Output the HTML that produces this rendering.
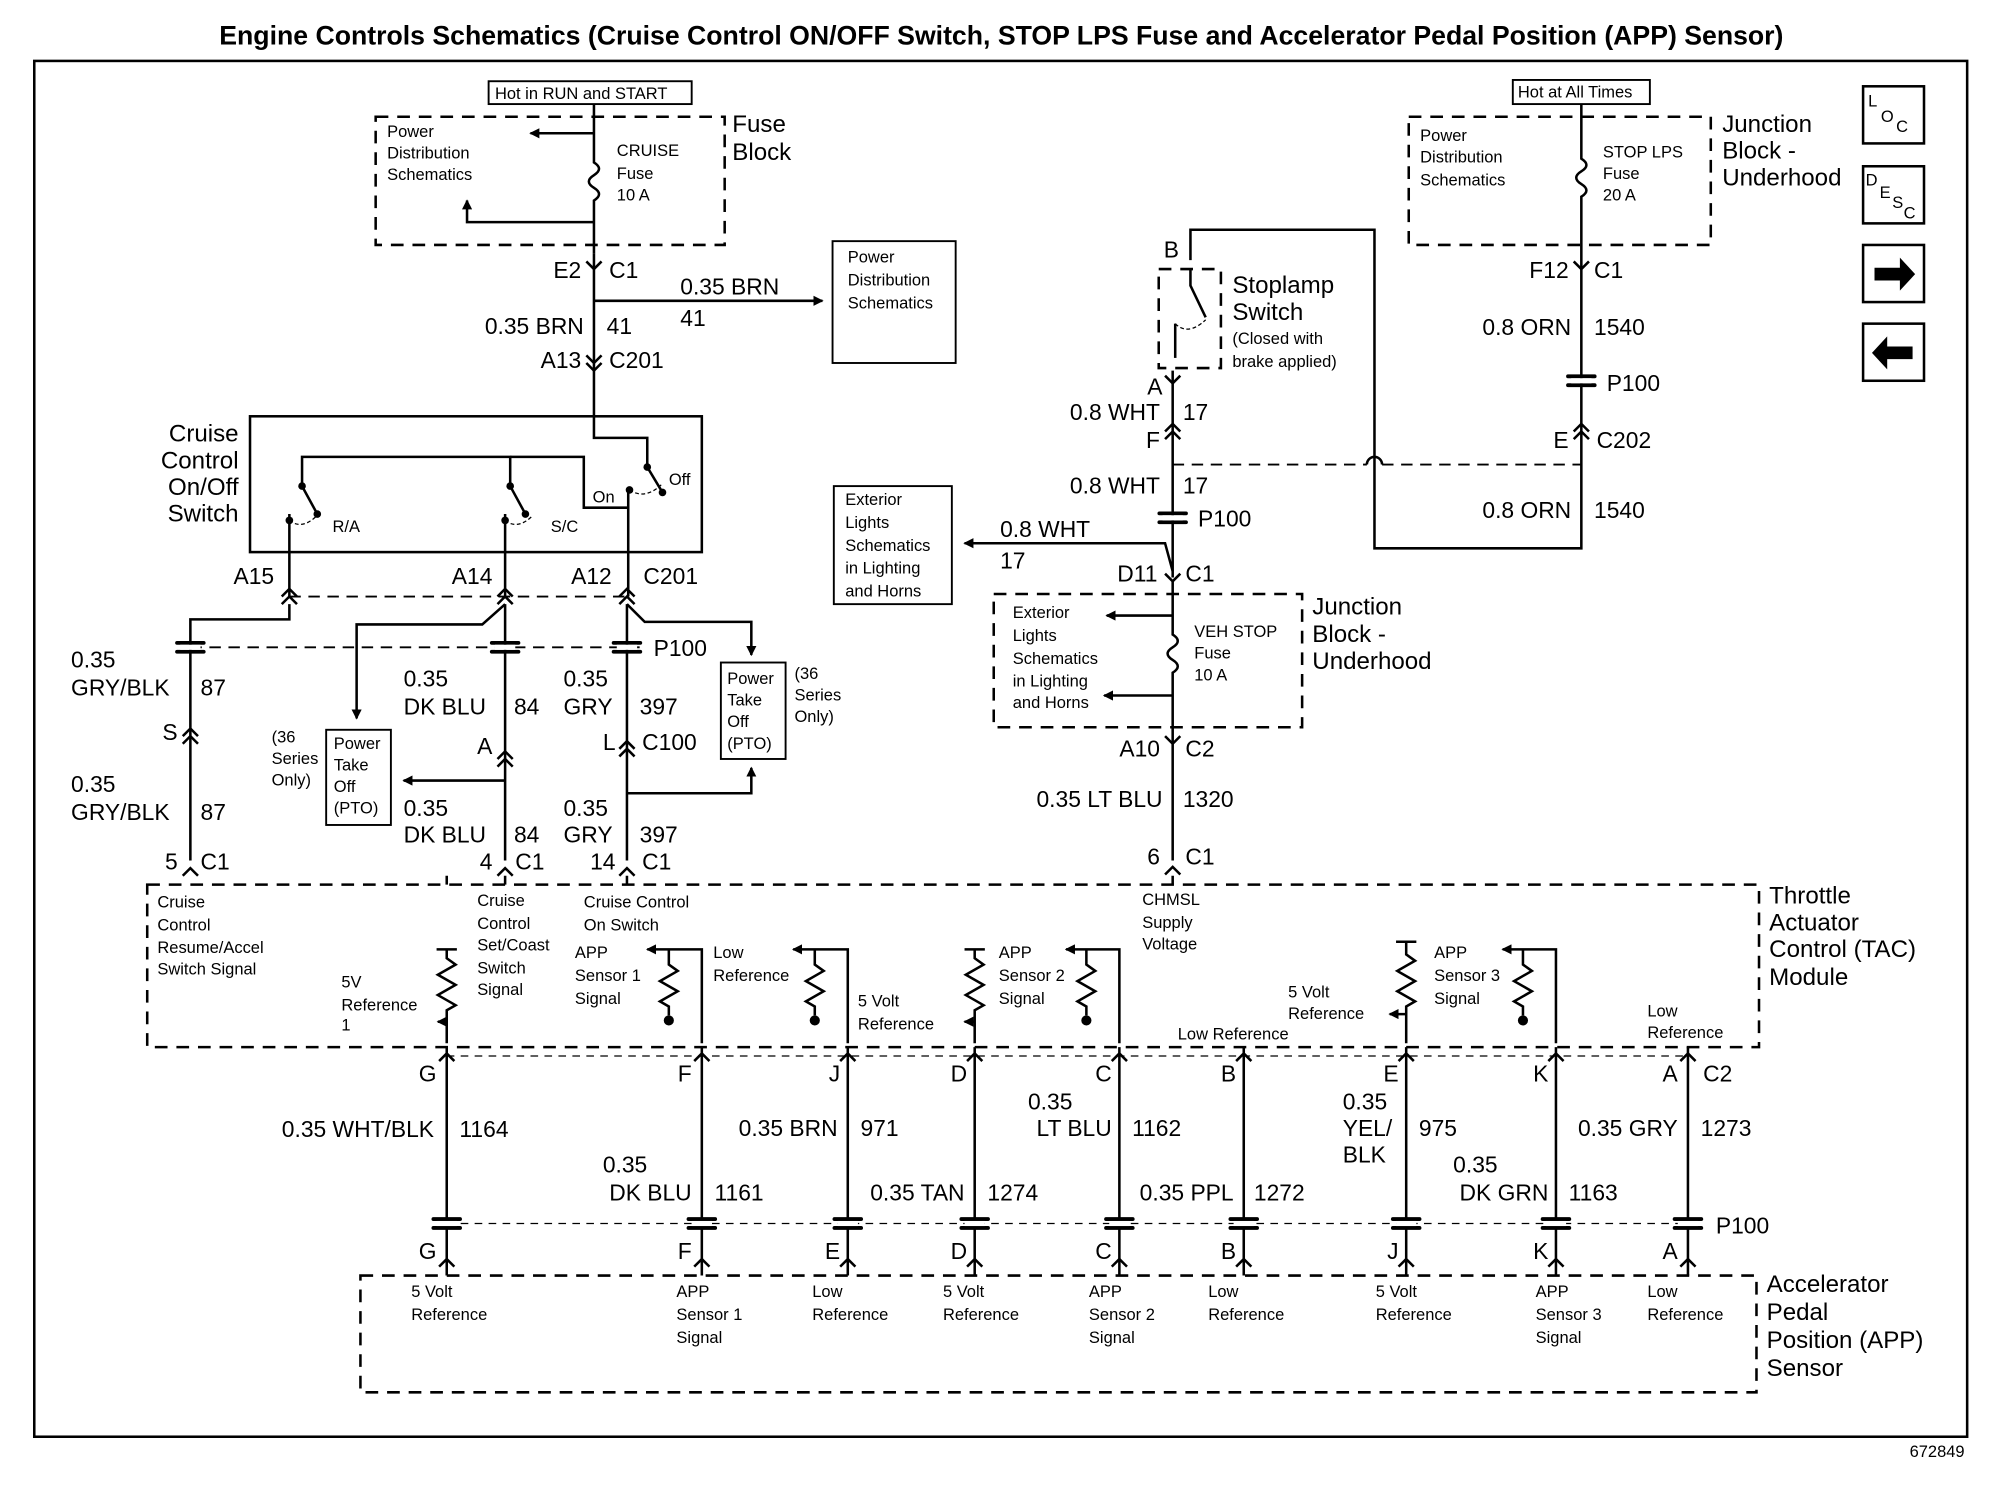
<!DOCTYPE html>
<html><head><meta charset="utf-8"><style>
html,body{margin:0;padding:0;background:#fff}
svg{display:block}
text{font-family:"Liberation Sans",Arial,sans-serif;fill:#000}
.b{font-size:18px}
.s{font-size:13px}
.h{font-size:19px}
</style></head><body>
<svg width="1990" height="1504" viewBox="0 0 1568 1185" preserveAspectRatio="none" xmlns="http://www.w3.org/2000/svg">
<defs>
<marker id="ar" markerWidth="8" markerHeight="8" refX="7" refY="4" orient="auto" markerUnits="userSpaceOnUse"><path d="M0,0 L8,4 L0,8 z" fill="#000"/></marker>
<g id="p"><rect x="-12" y="-5" width="24" height="3" rx="1.5" fill="#000"/><rect x="-12" y="2" width="24" height="3" rx="1.5" fill="#000"/><rect x="-8" y="-2" width="16" height="4" fill="#fff"/></g>
</defs>
<rect width="1568" height="1185" fill="#fff"/>
<text x="789" y="35" text-anchor="middle" font-size="21" font-weight="bold">Engine Controls Schematics (Cruise Control ON/OFF Switch, STOP LPS Fuse and Accelerator Pedal Position (APP) Sensor)</text>
<rect x="27" y="48" width="1523" height="1084" fill="none" stroke="#000" stroke-width="2"/>
<text x="1548" y="1148" text-anchor="end" class="s">672849</text>

<g fill="none" stroke="#000" stroke-width="2">
<rect x="296" y="92" width="275" height="101" stroke-dasharray="10,7"/>
<rect x="385" y="64" width="160" height="18" stroke-width="1.5"/>
<path d="M468 82 V128 q8 5 0 10 q-8 5 0 10 q8 5 0 10 V200"/>
<path d="M468 105 H418" marker-end="url(#ar)"/>
<path d="M468 175 H368 V158" marker-end="url(#ar)"/>
<path d="M468 237 H648" marker-end="url(#ar)"/>
<rect x="656" y="190" width="97" height="96" stroke-width="1.5"/>
<path d="M468 200 V345 H510 V368 L522 388"/>
<rect x="197" y="328" width="356" height="107"/>
<path d="M238 383 V360 H402 V383 L414 405"/>
<path d="M402 360 H460 V400 H495"/>
<path d="M238 383 L250 405"/>
<path d="M495 384 V470"/>
<path d="M228 405 V470"/>
<path d="M398 405 V470"/>
<path d="M228 410 q10 8 22 -4" stroke-width="1" stroke-dasharray="3,2"/>
<path d="M398 410 q10 8 22 -4" stroke-width="1" stroke-dasharray="3,2"/>
<path d="M496 386 q12 8 25 -4" stroke-width="1" stroke-dasharray="3,2"/>
<path d="M222 470 l6-6 6 6 M222 476 l6-6 6 6 M392 470 l6-6 6 6 M392 476 l6-6 6 6 M488 470 l6-6 6 6 M488 476 l6-6 6 6"/>
<path d="M228 470 H494" stroke-dasharray="9,6" stroke-width="1.5"/>
<path d="M228 476 V488 H150 V678"/>
<path d="M398 476 V678"/>
<path d="M398 476 L380 492 H281 V566" marker-end="url(#ar)"/>
<path d="M494 476 V678"/>
<path d="M494 476 L508 490 H592 V516" marker-end="url(#ar)"/>
<path d="M150 510 H510" stroke-dasharray="9,6" stroke-width="1.5"/>
<path d="M398 615 H318" marker-end="url(#ar)"/>
<path d="M494 625 H592 V605" marker-end="url(#ar)"/>
<rect x="257" y="575" width="51" height="75" stroke-width="1.5"/>
<rect x="568" y="522" width="51" height="76" stroke-width="1.5"/>
<path d="M144 580 l6-6 6 6 M144 586 l6-6 6 6 M392 598 l6-6 6 6 M392 604 l6-6 6 6 M488 590 l6-6 6 6 M488 596 l6-6 6 6"/>
<path d="M144 690 l6-6 6 6 M392 690 l6-6 6 6 M488 690 l6-6 6 6 M918 689 l6-6 6 6"/>
<path d="M462 280 l6 6 6-6 M462 286 l6 6 6-6 M462 206 l6 6 6-6"/>

<rect x="1110" y="92" width="238" height="101" stroke-dasharray="10,7"/>
<rect x="1192" y="63" width="108" height="19" stroke-width="1.5"/>
<path d="M1246 82 V125 q8 5 0 10 q-8 5 0 10 q8 5 0 10 V432 H1083 V181 H938 V205"/>
<path d="M1240 206 l6 6 6-6 M1240 340 l6-6 6 6 M1240 346 l6-6 6 6"/>
<rect x="913" y="212" width="49" height="78" stroke-dasharray="10,7"/>
<path d="M938 212 V225 L950 250"/>
<path d="M926 255 V282"/>
<path d="M926 255 q10 10 24 -3" stroke-width="1" stroke-dasharray="3,2"/>
<path d="M924 292 V455"/>
<path d="M918 296 l6 6 6-6 M918 340 l6-6 6 6 M918 346 l6-6 6 6"/>
<path d="M924 366 H1077 M1089 366 H1246" stroke-dasharray="9,6" stroke-width="1.5"/>
<path d="M1077 366 a6 6 0 0 1 12 0"/>
<path d="M924 450 L918 428 H760" marker-end="url(#ar)"/>
<rect x="657" y="383" width="93" height="93" stroke-width="1.5"/>
<path d="M918 452 l6 6 6-6 M918 580 l6 6 6-6"/>
<rect x="783" y="468" width="243" height="105" stroke-dasharray="10,7"/>
<path d="M924 458 V500 q8 5 0 10 q-8 5 0 10 q8 5 0 10 V678"/>
<path d="M924 485 H872" marker-end="url(#ar)"/>
<path d="M924 548 H870" marker-end="url(#ar)"/>

<rect x="116" y="697" width="1270" height="128" stroke-dasharray="10,7"/>
<path d="M352 690 V697 M398 690 V697 M494 690 V697 M924 690 V697"/>
<path d="M344 748 H360 M352 748 V755 l7 5 -14 8 14 8 -14 8 14 8 -7 4 V822" />
<path d="M352 805 H345" marker-end="url(#ar)"/>
<path d="M553 822 V748 H510" marker-end="url(#ar)"/>
<path d="M527 748 V760 l7 5 -14 8 14 8 -14 8 7 4 V800"/>
<path d="M668 822 V748 H625" marker-end="url(#ar)"/>
<path d="M642 748 V760 l7 5 -14 8 14 8 -14 8 7 4 V800"/>
<path d="M760 748 H776 M768 748 V755 l7 5 -14 8 14 8 -14 8 14 8 -7 4 V822"/>
<path d="M768 805 H760" marker-end="url(#ar)"/>
<path d="M882 822 V748 H840" marker-end="url(#ar)"/>
<path d="M856 748 V760 l7 5 -14 8 14 8 -14 8 7 4 V800"/>
<path d="M1100 742 H1116 M1108 742 V752 l7 5 -14 8 14 8 -14 8 14 8 -7 4 V822"/>
<path d="M1108 799 H1095" marker-end="url(#ar)"/>
<path d="M1226 822 V748 H1184" marker-end="url(#ar)"/>
<path d="M1200 748 V760 l7 5 -14 8 14 8 -14 8 7 4 V800"/>
<path d="M352 825 V1005 M553 825 V1005 M668 825 V1005 M768 825 V1005 M882 825 V1005 M980 825 V1005 M1108 825 V1005 M1226 825 V1005 M1330 825 V1005"/>
<path d="M346 838 l6-6 6 6 M547 838 l6-6 6 6 M662 838 l6-6 6 6 M762 838 l6-6 6 6 M876 838 l6-6 6 6 M974 838 l6-6 6 6 M1102 838 l6-6 6 6 M1220 838 l6-6 6 6 M1324 838 l6-6 6 6" transform="translate(0,-2)"/>
<path d="M352 832 H1330" stroke-dasharray="6,5" stroke-width="1"/>
<path d="M352 964 H1330" stroke-dasharray="6,5" stroke-width="1"/>
<path d="M346 998 l6-6 6 6 M547 998 l6-6 6 6 M662 998 l6-6 6 6 M762 998 l6-6 6 6 M876 998 l6-6 6 6 M974 998 l6-6 6 6 M1102 998 l6-6 6 6 M1220 998 l6-6 6 6 M1324 998 l6-6 6 6"/>
<rect x="284" y="1005" width="1100" height="92" stroke-dasharray="10,7"/>

<rect x="1468" y="68" width="48" height="45"/>
<rect x="1468" y="131" width="48" height="45"/>
<rect x="1468" y="193" width="48" height="45"/>
<rect x="1468" y="255" width="48" height="45"/>
</g>
<path d="M1477 211 h20 v-8 l12 13 -12 13 v-8 h-20z" fill="#000"/>
<path d="M1507 273 h-20 v-8 l-12 13 12 13 v-8 h20z" fill="#000"/>
<g font-size="13"><text x="1472" y="84">L</text><text x="1482" y="96">O</text><text x="1494" y="104">C</text>
<text x="1470" y="146">D</text><text x="1481" y="156">E</text><text x="1491" y="164">S</text><text x="1500" y="172">C</text></g>

<g fill="#000">
<use href="#p" x="150" y="510"/><use href="#p" x="398" y="510"/><use href="#p" x="494" y="510"/>
<use href="#p" x="1246" y="300"/><use href="#p" x="924" y="408"/>
<use href="#p" x="352" y="964"/><use href="#p" x="553" y="964"/><use href="#p" x="668" y="964"/><use href="#p" x="768" y="964"/><use href="#p" x="882" y="964"/><use href="#p" x="980" y="964"/><use href="#p" x="1108" y="964"/><use href="#p" x="1226" y="964"/><use href="#p" x="1330" y="964"/>
<circle cx="527" cy="804" r="4"/><circle cx="642" cy="804" r="4"/><circle cx="856" cy="804" r="4"/><circle cx="1200" cy="804" r="4"/>
<circle cx="238" cy="383" r="3"/><circle cx="250" cy="405" r="3"/><circle cx="228" cy="410" r="3"/>
<circle cx="402" cy="383" r="3"/><circle cx="414" cy="405" r="3"/><circle cx="398" cy="410" r="3"/>
<circle cx="510" cy="368" r="3"/><circle cx="522" cy="388" r="3"/><circle cx="496" cy="386" r="3"/>
</g>

<g class="s">
<text x="390" y="78">Hot in RUN and START</text>
<text x="305" y="108">Power</text><text x="305" y="125">Distribution</text><text x="305" y="142">Schematics</text>
<text x="486" y="123">CRUISE</text><text x="486" y="141">Fuse</text><text x="486" y="158">10 A</text>
<text x="668" y="207">Power</text><text x="668" y="225">Distribution</text><text x="668" y="243">Schematics</text>
<text x="262" y="419">R/A</text><text x="434" y="419">S/C</text><text x="467" y="396">On</text><text x="527" y="382">Off</text>
<text x="214" y="585">(36</text><text x="214" y="602">Series</text><text x="214" y="619">Only)</text>
<text x="263" y="590">Power</text><text x="263" y="607">Take</text><text x="263" y="624">Off</text><text x="263" y="641">(PTO)</text>
<text x="573" y="539">Power</text><text x="573" y="556">Take</text><text x="573" y="573">Off</text><text x="573" y="590">(PTO)</text>
<text x="626" y="535">(36</text><text x="626" y="552">Series</text><text x="626" y="569">Only)</text>
<text x="1196" y="77">Hot at All Times</text>
<text x="1119" y="111">Power</text><text x="1119" y="128">Distribution</text><text x="1119" y="146">Schematics</text>
<text x="1263" y="124">STOP LPS</text><text x="1263" y="141">Fuse</text><text x="1263" y="158">20 A</text>
<text x="971" y="271">(Closed with</text><text x="971" y="289">brake applied)</text>
<text x="666" y="398">Exterior</text><text x="666" y="416">Lights</text><text x="666" y="434">Schematics</text><text x="666" y="452">in Lighting</text><text x="666" y="470">and Horns</text>
<text x="798" y="487">Exterior</text><text x="798" y="505">Lights</text><text x="798" y="523">Schematics</text><text x="798" y="541">in Lighting</text><text x="798" y="558">and Horns</text>
<text x="941" y="502">VEH STOP</text><text x="941" y="519">Fuse</text><text x="941" y="536">10 A</text>
<text x="124" y="715">Cruise</text><text x="124" y="733">Control</text><text x="124" y="751">Resume/Accel</text><text x="124" y="768">Switch Signal</text>
<text x="269" y="778">5V</text><text x="269" y="796">Reference</text><text x="269" y="812">1</text>
<text x="376" y="714">Cruise</text><text x="376" y="732">Control</text><text x="376" y="749">Set/Coast</text><text x="376" y="767">Switch</text><text x="376" y="784">Signal</text>
<text x="460" y="715">Cruise Control</text><text x="460" y="733">On Switch</text>
<text x="453" y="755">APP</text><text x="453" y="773">Sensor 1</text><text x="453" y="791">Signal</text>
<text x="562" y="755">Low</text><text x="562" y="773">Reference</text>
<text x="676" y="793">5 Volt</text><text x="676" y="811">Reference</text>
<text x="787" y="755">APP</text><text x="787" y="773">Sensor 2</text><text x="787" y="791">Signal</text>
<text x="900" y="713">CHMSL</text><text x="900" y="731">Supply</text><text x="900" y="748">Voltage</text>
<text x="928" y="819">Low Reference</text>
<text x="1015" y="786">5 Volt</text><text x="1015" y="803">Reference</text>
<text x="1130" y="755">APP</text><text x="1130" y="773">Sensor 3</text><text x="1130" y="791">Signal</text>
<text x="1298" y="801">Low</text><text x="1298" y="818">Reference</text>
<text x="324" y="1022">5 Volt</text><text x="324" y="1040">Reference</text>
<text x="533" y="1022">APP</text><text x="533" y="1040">Sensor 1</text><text x="533" y="1058">Signal</text>
<text x="640" y="1022">Low</text><text x="640" y="1040">Reference</text>
<text x="743" y="1022">5 Volt</text><text x="743" y="1040">Reference</text>
<text x="858" y="1022">APP</text><text x="858" y="1040">Sensor 2</text><text x="858" y="1058">Signal</text>
<text x="952" y="1022">Low</text><text x="952" y="1040">Reference</text>
<text x="1084" y="1022">5 Volt</text><text x="1084" y="1040">Reference</text>
<text x="1210" y="1022">APP</text><text x="1210" y="1040">Sensor 3</text><text x="1210" y="1058">Signal</text>
<text x="1298" y="1022">Low</text><text x="1298" y="1040">Reference</text>
</g>

<g class="h">
<text x="577" y="104">Fuse</text><text x="577" y="126">Block</text>
<text x="188" y="348" text-anchor="end">Cruise</text><text x="188" y="369" text-anchor="end">Control</text><text x="188" y="390" text-anchor="end">On/Off</text><text x="188" y="411" text-anchor="end">Switch</text>
<text x="1357" y="104">Junction</text><text x="1357" y="125">Block -</text><text x="1357" y="146">Underhood</text>
<text x="971" y="231">Stoplamp</text><text x="971" y="252">Switch</text>
<text x="1034" y="484">Junction</text><text x="1034" y="506">Block -</text><text x="1034" y="527">Underhood</text>
<text x="1394" y="712">Throttle</text><text x="1394" y="733">Actuator</text><text x="1394" y="754">Control (TAC)</text><text x="1394" y="776">Module</text>
<text x="1392" y="1018">Accelerator</text><text x="1392" y="1040">Pedal</text><text x="1392" y="1062">Position (APP)</text><text x="1392" y="1084">Sensor</text>
</g>

<g class="b">
<text x="458" y="219" text-anchor="end">E2</text><text x="480" y="219">C1</text>
<text x="536" y="232">0.35 BRN</text><text x="536" y="257">41</text>
<text x="460" y="263" text-anchor="end">0.35 BRN</text><text x="478" y="263">41</text>
<text x="458" y="290" text-anchor="end">A13</text><text x="480" y="290">C201</text>
<text x="216" y="460" text-anchor="end">A15</text><text x="388" y="460" text-anchor="end">A14</text><text x="482" y="460" text-anchor="end">A12</text><text x="507" y="460">C201</text>
<text x="515" y="517">P100</text>
<text x="56" y="526">0.35</text><text x="56" y="548">GRY/BLK</text><text x="158" y="548">87</text>
<text x="140" y="583" text-anchor="end">S</text>
<text x="56" y="624">0.35</text><text x="56" y="646">GRY/BLK</text><text x="158" y="646">87</text>
<text x="140" y="685" text-anchor="end">5</text><text x="158" y="685">C1</text>
<text x="318" y="541">0.35</text><text x="318" y="563">DK BLU</text><text x="405" y="563">84</text>
<text x="388" y="594" text-anchor="end">A</text>
<text x="318" y="643">0.35</text><text x="318" y="664">DK BLU</text><text x="405" y="664">84</text>
<text x="388" y="685" text-anchor="end">4</text><text x="406" y="685">C1</text>
<text x="444" y="541">0.35</text><text x="444" y="563">GRY</text><text x="504" y="563">397</text>
<text x="485" y="591" text-anchor="end">L</text><text x="506" y="591">C100</text>
<text x="444" y="643">0.35</text><text x="444" y="664">GRY</text><text x="504" y="664">397</text>
<text x="485" y="685" text-anchor="end">14</text><text x="506" y="685">C1</text>
<text x="929" y="203" text-anchor="end">B</text>
<text x="916" y="311" text-anchor="end">A</text>
<text x="914" y="331" text-anchor="end">0.8 WHT</text><text x="932" y="331">17</text>
<text x="914" y="353" text-anchor="end">F</text>
<text x="914" y="389" text-anchor="end">0.8 WHT</text><text x="932" y="389">17</text>
<text x="944" y="415">P100</text>
<text x="788" y="423">0.8 WHT</text><text x="788" y="448">17</text>
<text x="912" y="458" text-anchor="end">D11</text><text x="934" y="458">C1</text>
<text x="914" y="596" text-anchor="end">A10</text><text x="934" y="596">C2</text>
<text x="916" y="636" text-anchor="end">0.35 LT BLU</text><text x="932" y="636">1320</text>
<text x="914" y="681" text-anchor="end">6</text><text x="934" y="681">C1</text>
<text x="1236" y="219" text-anchor="end">F12</text><text x="1256" y="219">C1</text>
<text x="1238" y="264" text-anchor="end">0.8 ORN</text><text x="1256" y="264">1540</text>
<text x="1266" y="308">P100</text>
<text x="1236" y="353" text-anchor="end">E</text><text x="1258" y="353">C202</text>
<text x="1238" y="408" text-anchor="end">0.8 ORN</text><text x="1256" y="408">1540</text>
<text x="344" y="852" text-anchor="end">G</text><text x="545" y="852" text-anchor="end">F</text><text x="662" y="852" text-anchor="end">J</text><text x="762" y="852" text-anchor="end">D</text><text x="876" y="852" text-anchor="end">C</text><text x="974" y="852" text-anchor="end">B</text><text x="1102" y="852" text-anchor="end">E</text><text x="1220" y="852" text-anchor="end">K</text><text x="1322" y="852" text-anchor="end">A</text><text x="1342" y="852">C2</text>
<text x="342" y="896" text-anchor="end">0.35 WHT/BLK</text><text x="362" y="896">1164</text>
<text x="475" y="924">0.35</text><text x="545" y="946" text-anchor="end">DK BLU</text><text x="563" y="946">1161</text>
<text x="660" y="895" text-anchor="end">0.35 BRN</text><text x="678" y="895">971</text>
<text x="760" y="946" text-anchor="end">0.35 TAN</text><text x="778" y="946">1274</text>
<text x="810" y="874">0.35</text><text x="876" y="895" text-anchor="end">LT BLU</text><text x="892" y="895">1162</text>
<text x="972" y="946" text-anchor="end">0.35 PPL</text><text x="988" y="946">1272</text>
<text x="1058" y="874">0.35</text><text x="1058" y="895">YEL/</text><text x="1058" y="916">BLK</text><text x="1118" y="895">975</text>
<text x="1145" y="924">0.35</text><text x="1220" y="946" text-anchor="end">DK GRN</text><text x="1236" y="946">1163</text>
<text x="1322" y="895" text-anchor="end">0.35 GRY</text><text x="1340" y="895">1273</text>
<text x="1352" y="972">P100</text>
<text x="344" y="992" text-anchor="end">G</text><text x="545" y="992" text-anchor="end">F</text><text x="662" y="992" text-anchor="end">E</text><text x="762" y="992" text-anchor="end">D</text><text x="876" y="992" text-anchor="end">C</text><text x="974" y="992" text-anchor="end">B</text><text x="1102" y="992" text-anchor="end">J</text><text x="1220" y="992" text-anchor="end">K</text><text x="1322" y="992" text-anchor="end">A</text>
</g>
</svg>
</body></html>
